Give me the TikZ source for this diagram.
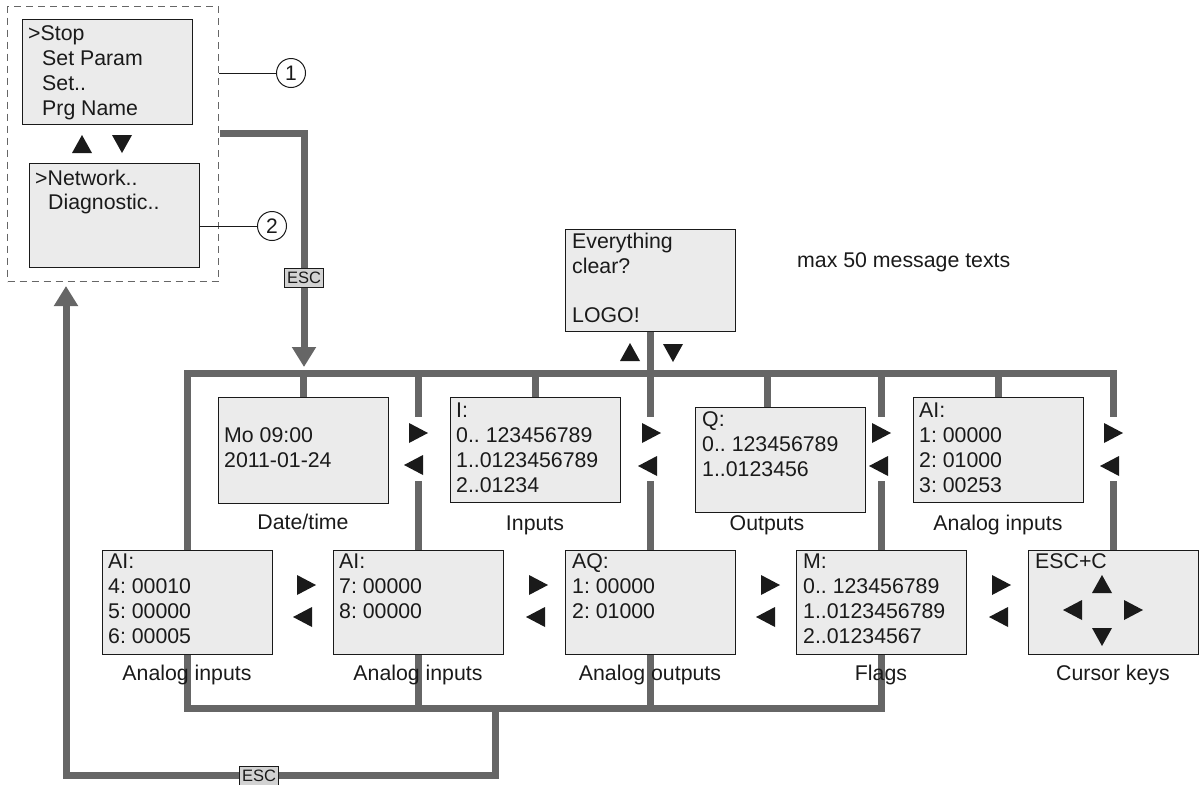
\documentclass[tikz,border=0pt]{standalone}
\usepackage{fontspec}
\setmainfont{Liberation Sans}
\usetikzlibrary{arrows.meta}
\definecolor{busc}{HTML}{666666}
\definecolor{scr}{HTML}{EBEBEB}
\definecolor{escf}{HTML}{D2D2D2}
\definecolor{ink}{HTML}{1A1A1A}
\begin{document}
\begin{tikzpicture}[x=1pt,y=-1pt,
  bus/.style={draw=busc, line width=7pt},
  screen/.style={draw=ink, line width=1.2pt, fill=scr, anchor=north west, minimum width=170pt, minimum height=105pt, inner sep=0pt},
  txt/.style={anchor=base west, inner sep=0pt, text=ink, align=left, font=\fontsize{21.3}{25}\selectfont\frenchspacing},
  lbl/.style={anchor=base, inner sep=0pt, text=ink, font=\fontsize{21.3}{25}\selectfont\frenchspacing},
  esclbl/.style={draw=ink, fill=escf, line width=0.9pt, inner xsep=2.5pt, inner ysep=0pt, minimum height=19pt, text=ink, font=\fontsize{16.5}{16.5}\selectfont},
  callout/.style={circle, draw=ink, line width=1pt, minimum size=29pt, inner sep=0pt, text=ink, font=\fontsize{21}{21}\selectfont},
  bigarrow/.style={-{Triangle[width=23pt,length=20pt]}},
  triR/.pic={\fill[ink] (-9,-10) -- (10,0) -- (-9,10) -- cycle;},
  triL/.pic={\fill[ink] (9,-10) -- (-10,0) -- (9,10) -- cycle;},
  triU/.pic={\fill[ink] (-10,9) -- (0,-9) -- (10,9) -- cycle;},
  triD/.pic={\fill[ink] (-10,-9) -- (0,9) -- (10,-9) -- cycle;}
]
\useasboundingbox (0,0) rectangle (1203,785);

% ---------- left menu ----------
\node[draw=busc, dash pattern=on 7pt off 5pt, line width=1pt, anchor=north west, minimum width=211pt, minimum height=275pt, inner sep=0pt] (menu) at (7,6) {};
\node[screen] (stop) at (22,19) {};
\node[screen, minimum height=104pt] (net) at (29,163) {};
\node[txt, font=\fontsize{21.3}{24.7}\selectfont] (stop-t) at (28,115) {>Stop\\\hspace*{14pt}Set Param\\\hspace*{14pt}Set..\\\hspace*{14pt}Prg Name};
\node[txt, font=\fontsize{21.3}{23.5}\selectfont] (net-t) at (35,209) {>Network..\\\hspace*{13pt}Diagnostic..};
\pic at (82,144) {triU};
\pic at (122,144) {triD};

\node[callout] (c1) at (291,73) {1};
\node[callout] (c2) at (272,226) {2};
\draw[ink, line width=1pt] (menu.east |- c1) -- (c1.west);
\draw[ink, line width=1pt] (net.east |- c2) -- (c2.west);

% ---------- screens ----------
\node[screen, minimum height=102pt] (every) at (565,229) {};
\node[screen, minimum height=106pt] (date) at (218,397) {};
\node[screen] (inp) at (450,397) {};
\node[screen] (outp) at (695,407) {};
\node[screen] (ai1) at (913,397) {};
\node[screen, minimum height=104pt] (ai4) at (102,550) {};
\node[screen, minimum height=104pt] (ai7) at (333,550) {};
\node[screen, minimum height=104pt] (aq) at (565,550) {};
\node[screen, minimum height=104pt] (flg) at (796,550) {};
\node[screen, minimum height=104pt] (cur) at (1028,550) {};

% ---------- coordinates ----------
\coordinate (tb) at (0,373);
\coordinate (bb) at (0,708);
\coordinate (gt) at (0,417);
\coordinate (gb) at (0,481);
\coordinate (outp-in) at (767,407);
\coordinate (start) at (220,133);
\coordinate (drop) at (304,367);
\coordinate (r0) at (495,708);
\coordinate (r1) at (66,775);
\coordinate (r2) at (66,286);

% ---------- buses ----------
\draw[bus] (ai4.north) -- (ai4.north |- tb) -- (cur.north |- tb) -- (cur.north |- gt);
\draw[bus] (cur.north |- gb) -- (cur.north);
\draw[bus] (date.north) -- (date.north |- tb);
\draw[bus] (inp.north) -- (inp.north |- tb);
\draw[bus] (outp-in) -- (outp-in |- tb);
\draw[bus] (ai1.north) -- (ai1.north |- tb);
\draw[bus] (ai7.north |- tb) -- (ai7.north |- gt);
\draw[bus] (ai7.north |- gb) -- (ai7.north);
\draw[bus] (every.south) -- (aq.north |- gt);
\draw[bus] (aq.north |- gb) -- (aq.north);
\draw[bus] (flg.north |- tb) -- (flg.north |- gt);
\draw[bus] (flg.north |- gb) -- (flg.north);

\draw[bus] (ai4.south) -- (ai4.south |- bb) -- (flg.south |- bb) -- (flg.south);
\draw[bus] (ai7.south) -- (ai7.south |- bb);
\draw[bus] (aq.south) -- (aq.south |- bb);

\draw[bus, bigarrow] (start) -| (drop);
\draw[bus, bigarrow] (r0) |- (r1) -- (r2);

\node[esclbl] (esc1) at (304,278) {ESC};
\node[esclbl] (esc2) at (259,776) {ESC};

% ---------- texts ----------
\node[txt, font=\fontsize{21.3}{24.5}\selectfont] (every-t) at (572,322) {Everything\\clear?\\\mbox{}\\LOGO!};
\node[txt] (max-t) at (797,267) {max 50 message texts};
\node[txt] (date-t) at (224,467) {Mo 09:00\\2011-01-24};
\node[txt] (inp-t) at (456,492) {I:\\0..\ 123456789\\1..0123456789\\2..01234};
\node[txt] (outp-t) at (702,476) {Q:\\0..\ 123456789\\1..0123456};
\node[txt] (ai1-t) at (919,492) {AI:\\1: 00000\\2: 01000\\3: 00253};
\node[txt] (ai4-t) at (108,643) {AI:\\4: 00010\\5: 00000\\6: 00005};
\node[txt] (ai7-t) at (339,618) {AI:\\7: 00000\\8: 00000};
\node[txt] (aq-t) at (572,618) {AQ:\\1: 00000\\2: 01000};
\node[txt] (flg-t) at (803,643) {M:\\0..\ 123456789\\1..0123456789\\2..01234567};
\node[txt] (cur-t) at (1035,568) {ESC+C};

\node[lbl] (date-l) at (303,529) {Date/time};
\node[lbl] (inp-l) at (535,530) {Inputs};
\node[lbl] (outp-l) at (767,530) {Outputs};
\node[lbl] (ai1-l) at (998,530) {Analog inputs};
\node[lbl] (ai4-l) at (187,680) {Analog inputs};
\node[lbl] (ai7-l) at (418,680) {Analog inputs};
\node[lbl] (aq-l) at (650,680) {Analog outputs};
\node[lbl] (flg-l) at (881,680) {Flags};
\node[lbl] (cur-l) at (1113,680) {Cursor keys};

% ---------- navigation triangles ----------
\pic at (630,352) {triU};
\pic at (673,353) {triD};
\pic at (418,433) {triR}; \pic at (414,465) {triL};
\pic at (651,433) {triR}; \pic at (648,466) {triL};
\pic at (881,433) {triR}; \pic at (879,466) {triL};
\pic at (1113,433) {triR}; \pic at (1110,466) {triL};
\pic at (306,585) {triR}; \pic at (303,617) {triL};
\pic at (538,585) {triR}; \pic at (536,617) {triL};
\pic at (770,585) {triR}; \pic at (766,617) {triL};
\pic at (1001,585) {triR}; \pic at (999,617) {triL};
\pic at (1102,584) {triU};
\pic at (1073,610) {triL};
\pic at (1133,610) {triR};
\pic at (1102,637) {triD};
\end{tikzpicture}
\end{document}
